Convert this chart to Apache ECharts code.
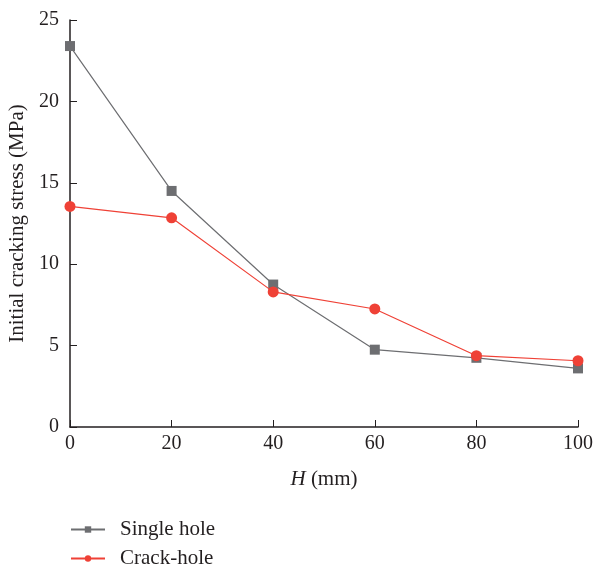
<!DOCTYPE html>
<html lang="en">
<head>
	<meta charset="UTF-8">
	<title>Initial cracking stress</title>
	<style>
		html,body{margin:0;padding:0;background:#fff;}
	</style>
</head>
<body>
	<div id="chart" style="width:593px;height:569px;"></div>
	<script src="https://cdn.jsdelivr.net/npm/echarts@6/dist/echarts.min.js"></script>
	<script>
	var hValues = [0, 20, 40, 60, 80, 100];
	var singleHole = [23.4, 14.5, 8.75, 4.75, 4.25, 3.6];
	var crackHole = [13.55, 12.85, 8.3, 7.25, 4.38, 4.07];
	var seriesNames = ['Single hole', 'Crack-hole'];

	function pairs(xs, ys){
		var out = [];
		for(var i=0;i<xs.length;i++){
			out.push([xs[i], ys[i]]);
		}
		return out;
	}

	var font = '"Liberation Serif", "DejaVu Serif", serif';
	var ink = '#231f20';
	var chart = echarts.init(document.getElementById('chart'));

	var option = {
		backgroundColor: '#fff',
		animation: false,
		textStyle: { fontFamily: font },
		grid: { left: 70, right: 15, top: 20, bottom: 142, outerBoundsMode: 'none', containLabel: false },
		legend: {
			orient: 'vertical',
			left: 70,
			top: 519,
			height: 50,
			padding: 0,
			itemWidth: 34,
			itemHeight: 8,
			itemGap: 8,
			textStyle: { fontFamily: font, fontSize: 21, color: ink, padding: [0, 0, 0, 10] },
			data: seriesNames
		},
		xAxis: {
			type: 'value',
			min: 0,
			max: 100,
			interval: 20,
			name: '{i|H} (mm)',
			nameLocation: 'middle',
			nameGap: 42,
			nameTextStyle: {
				fontFamily: font, fontSize: 21, color: ink,
				rich: { i: { fontFamily: font, fontStyle: 'italic', fontSize: 21, color: ink } }
			},
			axisLine: { lineStyle: { color: ink, width: 1.5 } },
			axisTick: { inside: true, length: 7, lineStyle: { color: ink } },
			axisLabel: { fontFamily: font, fontSize: 20, color: ink, margin: 7 },
			splitLine: { show: false }
		},
		yAxis: {
			type: 'value',
			min: 0,
			max: 25,
			interval: 5,
			name: 'Initial cracking stress (MPa)',
			nameLocation: 'middle',
			nameGap: 41,
			nameTextStyle: { fontFamily: font, fontSize: 21, color: ink },
			axisLine: { show: true, lineStyle: { color: ink, width: 1.5 } },
			axisTick: { show: true, inside: true, length: 7, lineStyle: { color: ink } },
			axisLabel: { fontFamily: font, fontSize: 20, color: ink, margin: 11 },
			splitLine: { show: false }
		},
		series: [
			{
				name: seriesNames[0],
				type: 'line',
				data: pairs(hValues, singleHole),
				symbol: 'rect',
				symbolSize: 10,
				color: '#6d6e71',
				lineStyle: { color: '#6d6e71', width: 1.2 },
				itemStyle: { color: '#6d6e71' },
				z: 2
			},
			{
				name: seriesNames[1],
				type: 'line',
				data: pairs(hValues, crackHole),
				symbol: 'circle',
				symbolSize: 11,
				color: '#ef4136',
				lineStyle: { color: '#ef4136', width: 1.2 },
				itemStyle: { color: '#ef4136' },
				z: 3
			}
		]
	};
	chart.setOption(option);
	</script>
</body>
</html>
